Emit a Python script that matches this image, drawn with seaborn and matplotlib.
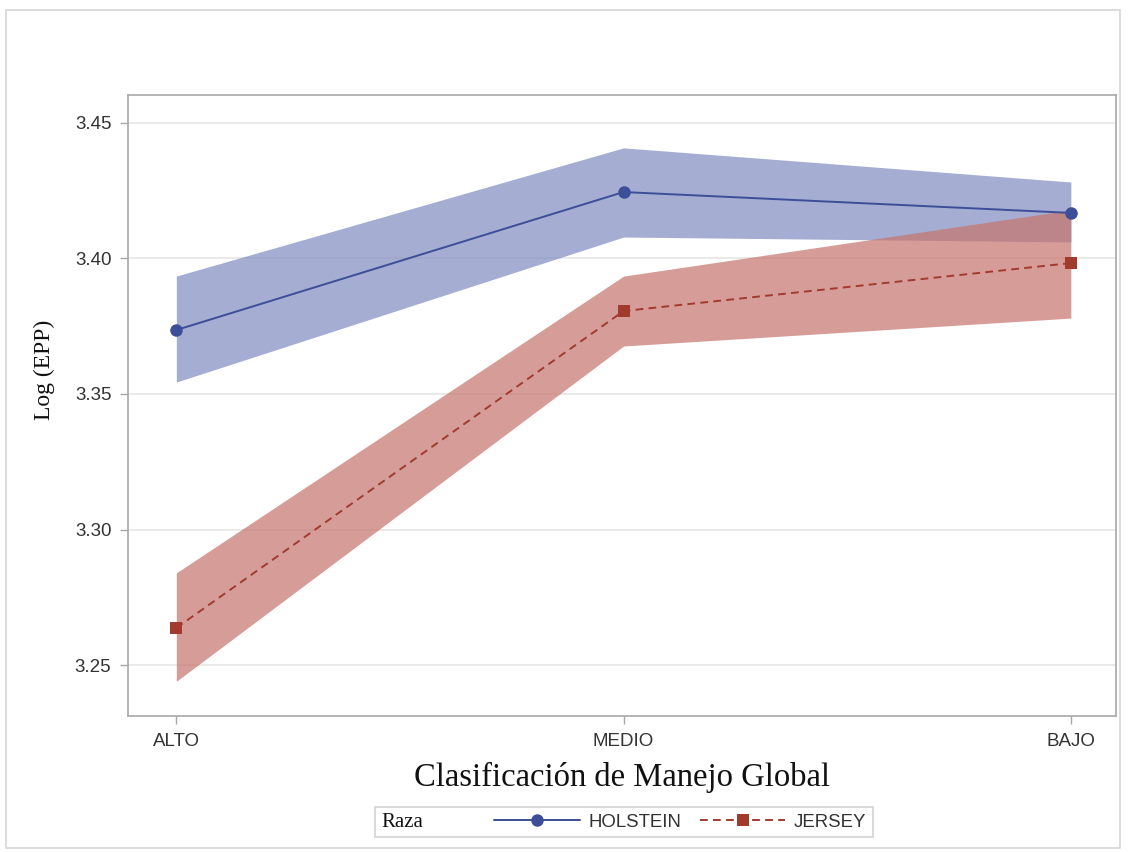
import matplotlib
matplotlib.use("Agg")
import matplotlib.pyplot as plt
import seaborn as sns
import pandas as pd
import numpy as np
from matplotlib.lines import Line2D
from matplotlib.patches import Rectangle
from matplotlib.legend_handler import HandlerBase

categories = ["ALTO", "MEDIO", "BAJO"]
breeds = ["HOLSTEIN", "JERSEY"]
holstein_mean = [3.3736, 3.4245, 3.4168]
holstein_low = [3.3544, 3.4079, 3.4061]
holstein_high = [3.3935, 3.4408, 3.4282]
jersey_mean = [3.2637, 3.3806, 3.3983]
jersey_low = [3.2440, 3.3677, 3.3780]
jersey_high = [3.2840, 3.3935, 3.4179]
yticks = [3.25, 3.30, 3.35, 3.40, 3.45]

sns.set_theme(style="white")
plt.rcParams["font.family"] = ["Liberation Sans", "DejaVu Sans"]

blue_line = "#3D4E98"
blue_fill = "#7F8BC0"
red_line = "#A33A2E"
red_fill = "#C5746C"

df = pd.DataFrame({
    "cat": categories * 2,
    "pos": list(range(len(categories))) * 2,
    "val": holstein_mean + jersey_mean,
    "Raza": [breeds[0]] * 3 + [breeds[1]] * 3,
})

fig = plt.figure(figsize=(11.28, 8.52), dpi=100)
fig.patches.append(Rectangle((6/1128, 4/852), 1114/1128, 838/852, transform=fig.transFigure,
                             fill=False, edgecolor="#D5D5D5", linewidth=1.2))
ax = fig.add_axes([0.1135, 0.1596, 0.8755, 0.7289])

x = np.arange(len(categories))
ax.fill_between(x, holstein_low, holstein_high, color=blue_fill, alpha=0.7, linewidth=0, zorder=1)
ax.fill_between(x, jersey_low, jersey_high, color=red_fill, alpha=0.7, linewidth=0, zorder=1)

sns.lineplot(data=df, x="pos", y="val", hue="Raza", style="Raza",
             palette={breeds[0]: blue_line, breeds[1]: red_line},
             markers={breeds[0]: "o", breeds[1]: "s"},
             dashes={breeds[0]: "", breeds[1]: (4, 2.7)},
             markersize=9, markeredgewidth=0, linewidth=1.4, legend=False, ax=ax, zorder=3)

ax.set_xlim(-0.108, 2.1)
ax.set_ylim(3.2312, 3.4603)
ax.set_xticks(x)
ax.set_xticklabels(categories)
ax.set_yticks(yticks)
ax.set_yticklabels([f"{t:.2f}" for t in yticks])
ax.yaxis.grid(True, color="#E6E6E6", linewidth=1.2)
ax.xaxis.grid(False)
ax.set_axisbelow(True)
for s in ax.spines.values():
    s.set_color("#A8A8A8")
    s.set_linewidth(1.2)
ax.tick_params(axis="both", which="both", direction="out", length=6, width=1,
               color="#A8A8A8", labelsize=13.5, labelcolor="#333333", pad=6, bottom=True, left=True)

ax.set_xlabel("Clasificación de Manejo Global", family=["Liberation Serif", "DejaVu Serif"],
              fontsize=23.5, color="#111111", labelpad=9)
ax.set_ylabel("Log (EPP)", family=["Liberation Serif", "DejaVu Serif"],
              fontsize=17, color="#111111", labelpad=14, y=0.557)


class TextHandler(HandlerBase):
    def create_artists(self, legend, orig_handle, xdescent, ydescent, width, height, fontsize, trans):
        t = matplotlib.text.Text(-xdescent, -ydescent + height / 2.0, orig_handle.get_label(),
                                 family=["Liberation Serif", "DejaVu Serif"], fontsize=15,
                                 va="center_baseline", ha="left", color="#111111", transform=trans)
        return [t]


class TitleHandle:
    def __init__(self, label):
        self._label = label

    def get_label(self):
        return self._label


title_h = TitleHandle("Raza")
h1 = Line2D([], [], color=blue_line, marker="o", markersize=9, markeredgewidth=0, linewidth=1.4)
h2 = Line2D([], [], color=red_line, marker="s", markersize=9, markeredgewidth=0, linewidth=1.4,
            linestyle=(0, (4, 2.7)))
leg = fig.legend([title_h, h1, h2], ["", breeds[0], breeds[1]], ncol=3,
                 handler_map={TitleHandle: TextHandler()},
                 loc="center", bbox_to_anchor=(624/1128, 1 - 822/852),
                 fontsize=13.4, frameon=True, fancybox=False, edgecolor="#C8C8C8",
                 handlelength=4.6, handletextpad=0.45, columnspacing=1.0, borderpad=0.35,
                 borderaxespad=0)
leg.get_frame().set_linewidth(1.2)
for t in leg.get_texts():
    t.set_color("#333333")

fig.savefig("out.png", dpi=100)
